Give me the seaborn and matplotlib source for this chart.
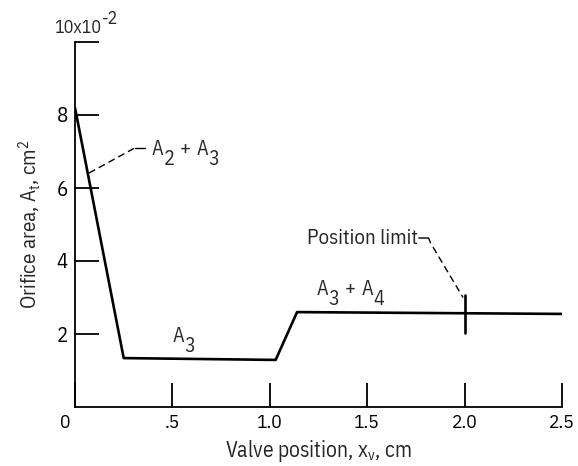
import matplotlib
matplotlib.use("Agg")
import matplotlib.pyplot as plt
import matplotlib.transforms as mtransforms
import seaborn as sns
import pandas as pd

# ---- data ----
valve_position = [0.0, 0.25, 1.03, 1.14, 2.5]      # cm
orifice_area = [8.2, 1.34, 1.29, 2.6, 2.55]          # x10^-2 cm^2
x_ticks = [0, 0.5, 1.0, 1.5, 2.0, 2.5]
x_tick_labels = ["0", ".5", "1.0", "1.5", "2.0", "2.5"]
y_ticks = [2, 4, 6, 8, 10]
y_tick_labels = ["2", "4", "6", "8", ""]
position_limit = 2.0

sns.set_style("ticks")
FONT = ["IBM Plex Sans Condensed", "DejaVu Sans"]
plt.rcParams["font.family"] = FONT
plt.rcParams["mathtext.fontset"] = "custom"
plt.rcParams["mathtext.rm"] = FONT[0]
plt.rcParams["mathtext.it"] = FONT[0]

df = pd.DataFrame({"x": valve_position, "y": orifice_area})

fig = plt.figure(figsize=(5.78, 4.66), dpi=100)
ax = fig.add_axes([75 / 578, 59 / 466, 487 / 578, 365 / 466])

sns.lineplot(data=df, x="x", y="y", ax=ax, color="black", linewidth=1.9,
             sort=False, estimator=None)

ax.set_xlim(0, 2.5)
ax.set_ylim(0, 10)
ax.set_xticks(x_ticks)
ax.set_xticklabels(x_tick_labels)
ax.set_yticks(y_ticks)
ax.set_yticklabels(y_tick_labels)
ax.tick_params(axis="both", direction="in", length=17, width=1.3,
               colors="black", pad=5)
ax.tick_params(axis="x", labelsize=14)
ax.tick_params(axis="y", labelsize=15)
for s in ["top", "right"]:
    ax.spines[s].set_visible(False)
for s in ["left", "bottom"]:
    ax.spines[s].set_linewidth(1.3)
    ax.spines[s].set_color("black")

# shift the "0" label left of the origin
lbl0 = ax.get_xticklabels()[0]
lbl0.set_transform(lbl0.get_transform() +
                   mtransforms.ScaledTranslation(-10 / 100, 0, fig.dpi_scale_trans))

ax.set_xlabel(r"Valve position, $\mathregular{x_v}$, cm", fontsize=15.5, labelpad=4)
ax.set_ylabel(r"Orifice area, $\mathregular{A_t}$, $\mathregular{cm^2}$",
              fontsize=15, labelpad=10)


def chain_label(x, y, pieces, fontsize):
    """Draw text pieces one after another; each piece is (text, gap_pts, dy_pts)."""
    first = ax.text(x, y, pieces[0][0], fontsize=fontsize, ha="left",
                    va="baseline", clip_on=False)
    prev, prev_dy = first, pieces[0][2]
    for s, gap, dy in pieces[1:]:
        a = ax.annotate(s, xy=(1, 0), xycoords=prev,
                        xytext=(gap, dy - prev_dy), textcoords="offset points",
                        ha="left", va="bottom", fontsize=fontsize,
                        annotation_clip=False)
        prev, prev_dy = a, dy


# 10x10^-2 scale label
chain_label(-0.105, 10.25, [("10x10", 0, 0), ("-2", 0, 6.5)], 13)

# A2 + A3 label and leader
chain_label(0.395, 6.9, [("A", 0, 0), ("2", 0, -7), ("+", 4, 0),
                         ("A", 4, 0), ("3", 0, -7)], 14.5)
ax.plot([0.072, 0.308], [6.41, 7.10], color="black", lw=1.0, ls=(0, (5, 3)))
ax.plot([0.308, 0.359], [7.10, 7.10], color="black", lw=1.0)

# A3 label
chain_label(0.503, 1.78, [("A", 0, 0), ("3", 0, -7)], 14.5)

# A3 + A4 label
chain_label(1.242, 3.07, [("A", 0, 0), ("3", 0, -7), ("+", 4, 0),
                          ("A", 4, 0), ("4", 0, -7)], 14.5)

# Position limit
ax.plot([position_limit, position_limit], [2.03, 3.07], color="black", lw=1.9)
ax.text(1.76, 4.63, "Position limit", fontsize=15, ha="right", va="center")
ax.plot([1.765, 1.815, 1.825], [4.63, 4.63, 4.50], color="black", lw=1.0)
ax.plot([1.838, 1.992], [4.38, 3.0], color="black", lw=1.0, ls=(0, (5, 3)))

fig.savefig("out.png", dpi=100)
